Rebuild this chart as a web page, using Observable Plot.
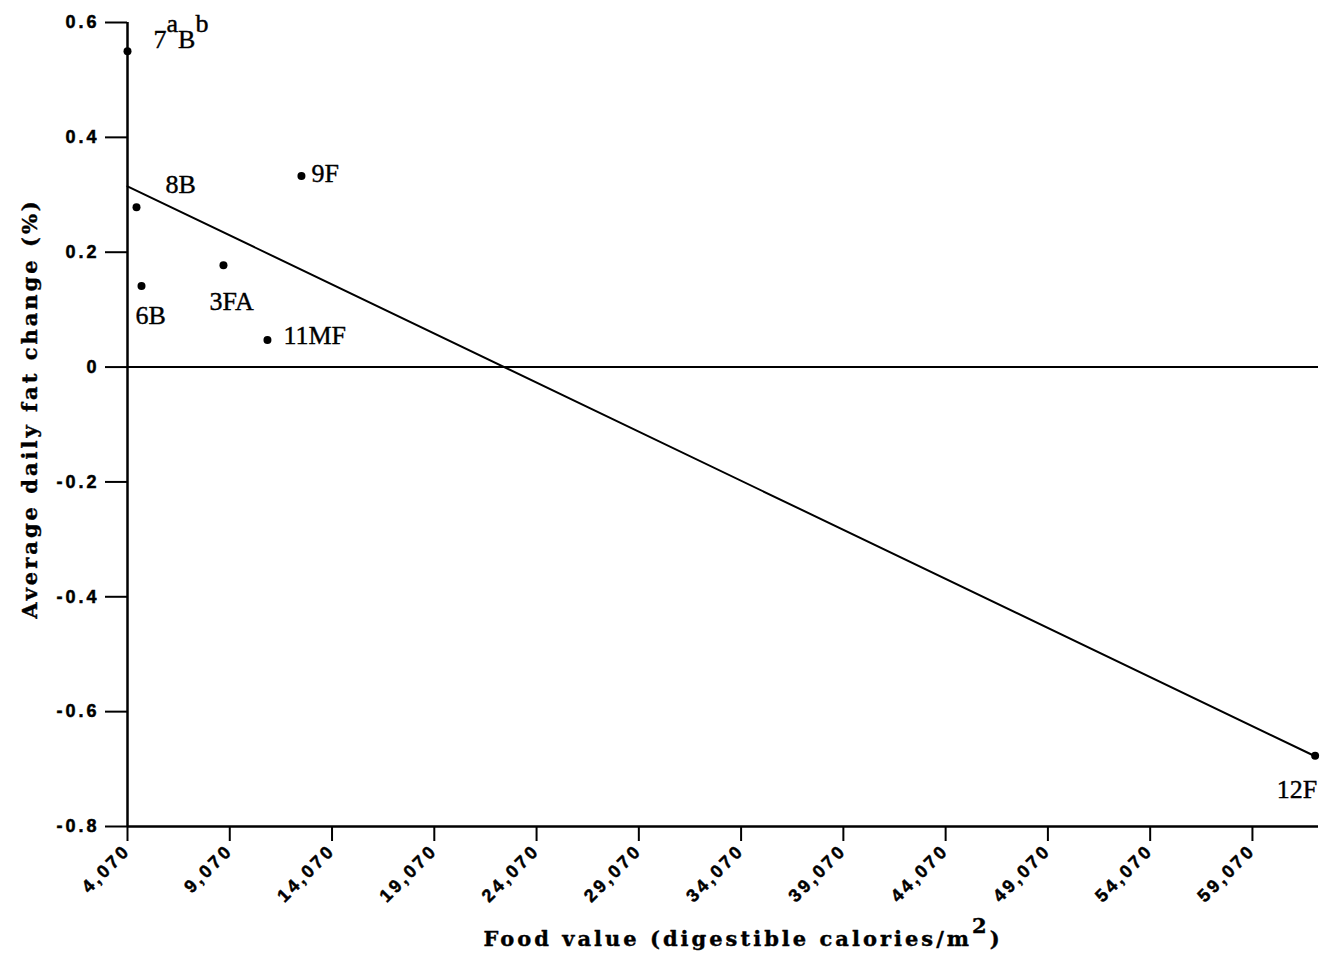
<!DOCTYPE html>
<html><head><meta charset="utf-8">
<script src="https://cdn.jsdelivr.net/npm/d3@7"></script>
<script src="https://cdn.jsdelivr.net/npm/@observablehq/plot@0.6"></script>
<style>
body{margin:0;background:#fff;}
#chart svg{background:#fff;}
</style></head><body><div id="chart"></div>
<script>
// ---- data ----
const pondLabels = ["7^aB^b", "8B", "6B", "3FA", "11MF", "9F", "12F"];
const foodValue  = [4070, 4510, 4754, 8762, 10913, 12574, 62135];
const fatChange  = [0.55, 0.2785, 0.141, 0.1775, 0.047, 0.3325, -0.677];
const xTickValues = [4070, 9070, 14070, 19070, 24070, 29070, 34070, 39070, 44070, 49070, 54070, 59070];
const yTickValues = [-0.8, -0.6, -0.4, -0.2, 0, 0.2, 0.4, 0.6];
const xDomain = [4070, 62300];
const yDomain = [-0.8, 0.6];
const xTitle = "Food value (digestible calories/m^2)";
const yTitle = "Average daily fat change (%)";

const data = pondLabels.map((label, i) => ({label, x: foodValue[i], y: fatChange[i]}));

// label placement (styling only)
const place = {
  "7^aB^b": {dx: 26, dy: -12, anchor: "start"},
  "8B":   {dx: 29, dy: -22, anchor: "start"},
  "6B":   {dx: -6, dy: 30, anchor: "start"},
  "3FA":  {dx: -14, dy: 37, anchor: "start"},
  "11MF": {dx: 16, dy: -4, anchor: "start"},
  "9F":   {dx: 10, dy: -2, anchor: "start"},
  "12F":  {dx: 2, dy: 34, anchor: "end"}
};

const serif = "'Liberation Serif', serif";
const titleFont = "'DejaVu Serif', serif";
const sans = "'Liberation Sans', Arial, sans-serif";

const chart = Plot.plot({
  width: 1328,
  height: 970,
  marginLeft: 127,
  marginRight: 10,
  marginTop: 22,
  marginBottom: 144,
  style: {background: "#fff", color: "black"},
  x: {domain: xDomain},
  y: {domain: yDomain},
  marks: [
    Plot.ruleY([0], {stroke: "black", strokeWidth: 2}),
    Plot.ruleX([xDomain[0]], {stroke: "black", strokeWidth: 2.5}),
    Plot.ruleY([yDomain[0]], {stroke: "black", strokeWidth: 2.5}),
    Plot.axisY({
      ticks: yTickValues, tickSize: 22, tickPadding: 6, strokeWidth: 2,
      tickFormat: d => String(d), label: null
    }),
    Plot.axisX({
      ticks: xTickValues, tickSize: 15, tickPadding: 6, strokeWidth: 2,
      tickRotate: -45, tickFormat: d3.format(","), label: null
    }),
    Plot.linearRegressionY(data, {x: "x", y: "y", ci: 0, stroke: "black", strokeWidth: 2}),
    Plot.dot(data, {x: "x", y: "y", r: 4, fill: "black", stroke: "none"}),
    ...data.map(d => Plot.text([d], {
      x: "x", y: "y", text: "label",
      dx: place[d.label].dx, dy: place[d.label].dy, textAnchor: place[d.label].anchor,
      fontSize: 26, fontFamily: serif, fill: "black", stroke: "black", strokeWidth: 0.4
    })),
    Plot.text([xTitle], {text: d => d, frameAnchor: "bottom", textAnchor: "middle", dx: 20, dy: 119,
      fontSize: 21, fontWeight: "bold", fontFamily: titleFont, fill: "black", stroke: "black", strokeWidth: 0.4}),
    Plot.text([yTitle], {text: d => d, frameAnchor: "left", textAnchor: "middle", dx: -97, dy: -16, rotate: -90,
      fontSize: 21, fontWeight: "bold", fontFamily: titleFont, fill: "black", stroke: "black", strokeWidth: 0.4})
  ]
});

const svg = d3.select(chart);

// tick label typography
svg.selectAll("g").filter(function() {
  const a = this.getAttribute("aria-label") || "";
  return a.includes("tick label");
}).each(function() {
  d3.select(this)
    .attr("font-size", 18).attr("font-weight", "bold").attr("font-family", sans)
    .style("font-size", "18px").style("font-weight", "bold").style("font-family", sans)
    .style("letter-spacing", "3px")
    .attr("stroke", "black").attr("stroke-width", 0.5);
  d3.select(this).selectAll("text").style("font-size", "18px");
});

// convert "^x" markers into raised tspans
svg.selectAll("text").each(function() {
  const t = this.textContent;
  if (!t.includes("^")) return;
  const sel = d3.select(this);
  sel.text(null);
  let raised = false;
  for (let i = 0; i < t.length; i++) {
    const ch = t[i];
    if (ch === "^") continue;
    const sup = i > 0 && t[i - 1] === "^";
    const ts = sel.append("tspan").text(ch);
    if (sup && !raised) { ts.attr("dy", "-0.6em"); raised = true; }
    else if (!sup && raised) { ts.attr("dy", "0.6em"); raised = false; }
  }
});

// letter spacing for the axis titles
svg.selectAll("text").filter(function() {
  const s = this.textContent;
  return s.startsWith("Food value") || s.startsWith("Average daily");
}).style("letter-spacing", "3px");

document.getElementById("chart").appendChild(chart);
</script></body></html>
